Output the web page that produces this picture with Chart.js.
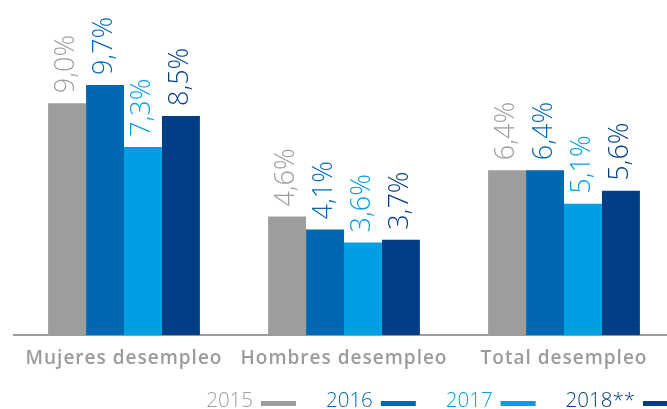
<!DOCTYPE html>
<html>
<head>
<meta charset="utf-8">
<script src="https://cdn.jsdelivr.net/npm/chart.js@4/dist/chart.umd.min.js"></script>
<style>
html,body{margin:0;padding:0;background:#fff;overflow:hidden;}
#wrap{position:relative;width:680px;height:409px;}
</style>
</head>
<body>
<div id="wrap"><canvas id="c"></canvas></div>
<script>
const categories = ["Mujeres desempleo", "Hombres desempleo", "Total desempleo"];
const seriesNames = ["2015", "2016", "2017", "2018**"];
const v2015 = [9.0, 4.6, 6.4];
const v2016 = [9.7, 4.1, 6.4];
const v2017 = [7.3, 3.6, 5.1];
const v2018 = [8.5, 3.7, 5.6];
const colors = ["#9d9d9c", "#0068b3", "#009fe3", "#003f86"];

const LABEL_FONT = "300 27px 'Open Sans', sans-serif";
const LEGEND_FONT = "300 20.5px 'Open Sans', sans-serif";

const spacing = {
  id: 'spacing',
  beforeDraw(chart) { chart.ctx.letterSpacing = '1px'; },
  beforeDatasetsDraw(chart) { chart.ctx.letterSpacing = '0px'; }
};

const valueLabels = {
  id: 'valueLabels',
  afterDatasetsDraw(chart) {
    const ctx = chart.ctx;
    chart.data.datasets.forEach((ds, i) => {
      const meta = chart.getDatasetMeta(i);
      meta.data.forEach((bar, j) => {
        const txt = ds.data[j].toFixed(1).replace('.', ',') + '%';
        ctx.save();
        ctx.letterSpacing = '0px';
        ctx.translate(bar.x + 7, bar.y - 10);
        ctx.rotate(-Math.PI / 2);
        ctx.font = LABEL_FONT;
        ctx.fillStyle = ds.backgroundColor;
        ctx.textAlign = 'left';
        ctx.textBaseline = 'alphabetic';
        ctx.fillText(txt, 0, 0);
        ctx.restore();
      });
    });
  }
};

const bottomLegend = {
  id: 'bottomLegend',
  afterDraw(chart) {
    const ctx = chart.ctx;
    ctx.save();
    ctx.letterSpacing = '0px';
    ctx.font = LEGEND_FONT;
    ctx.textBaseline = 'alphabetic';
    ctx.textAlign = 'left';
    const swW = 35, swH = 5, gap = 8, itemGap = 30;
    const baseline = 407;
    let x = 678;
    const ds = chart.data.datasets;
    for (let i = ds.length - 1; i >= 0; i--) {
      const w = ctx.measureText(ds[i].label).width;
      const sx = x - swW;
      ctx.fillStyle = ds[i].backgroundColor;
      ctx.fillRect(sx, baseline - 6, swW, swH);
      const tx = sx - gap - w;
      ctx.fillText(ds[i].label, tx, baseline);
      x = tx - itemGap;
    }
    ctx.restore();
  }
};

const values = [v2015, v2016, v2017, v2018];
new Chart(document.getElementById('c'), {
  type: 'bar',
  data: {
    labels: categories,
    datasets: seriesNames.map((n, i) => ({
      label: n,
      data: values[i],
      backgroundColor: colors[i],
      borderWidth: 0,
      barPercentage: 1,
      categoryPercentage: 0.69
    }))
  },
  options: {
    responsive: true,
    maintainAspectRatio: false,
    animation: false,
    layout: { padding: { top: 0, left: 14, right: 6, bottom: 27 } },
    plugins: { legend: { display: false }, tooltip: { enabled: false } },
    scales: {
      x: {
        grid: { display: false, drawTicks: false },
        border: { display: true, color: "#9d9d9c", width: 2 },
        ticks: {
          color: "#9b9b9b",
          padding: 12,
          font: { family: "'Open Sans'", size: 19, weight: 600 }
        }
      },
      y: { display: false, min: 0, max: 13 }
    }
  },
  plugins: [spacing, valueLabels, bottomLegend]
});
</script>
</body>
</html>
